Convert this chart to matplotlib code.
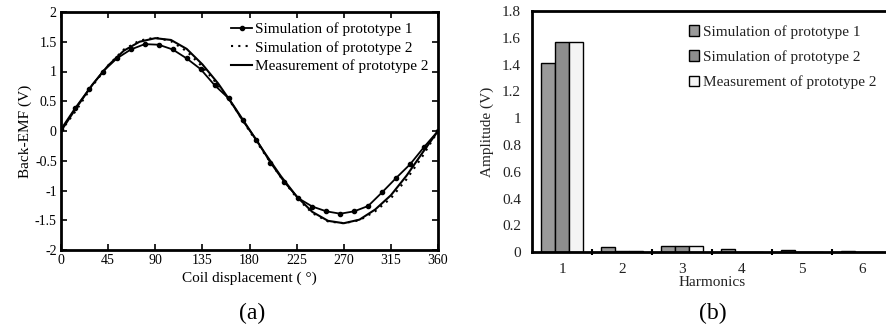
import numpy as np
import matplotlib
matplotlib.use("Agg")
import matplotlib.pyplot as plt

plt.rcParams['font.family'] = ['Liberation Serif', 'DejaVu Serif']
plt.rcParams['axes.unicode_minus'] = False
plt.rcParams['mathtext.fontset'] = 'stix'

# ---- (a) Back-EMF waveforms ----
angle_sim1 = [0, 13.33, 26.67, 40, 53.33, 66.67, 80, 93.33, 106.67, 120, 133.33, 146.67,
              160, 173.33, 186.67, 200, 213.33, 226.67, 240, 253.33, 266.67, 280, 293.33,
              306.67, 320, 333.33, 346.67, 360]
emf_sim1 = [0.03, 0.38, 0.70, 1.00, 1.22, 1.37, 1.46, 1.45, 1.37, 1.22, 1.04, 0.77,
            0.55, 0.18, -0.15, -0.53, -0.86, -1.13, -1.27, -1.35, -1.39, -1.35, -1.26,
            -1.03, -0.79, -0.56, -0.27, 0.0]

angle_p2 = [0, 15, 30, 45, 60, 75, 90, 105, 120, 135, 150, 165, 180, 195, 210, 225,
            240, 255, 270, 285, 300, 315, 330, 345, 360]
emf_sim2 = [0.0, 0.36, 0.76, 1.10, 1.37, 1.52, 1.57, 1.51, 1.34, 1.08, 0.77, 0.41, 0.0,
            -0.40, -0.78, -1.12, -1.38, -1.52, -1.55, -1.50, -1.35, -1.13, -0.81, -0.43, 0.0]
emf_meas2 = [0.0, 0.40, 0.78, 1.10, 1.35, 1.50, 1.56, 1.53, 1.38, 1.12, 0.80, 0.42, 0.02,
             -0.38, -0.76, -1.10, -1.36, -1.51, -1.55, -1.49, -1.32, -1.08, -0.75, -0.37, 0.0]

x_ticks_a = [0, 45, 90, 135, 180, 225, 270, 315, 360]
y_ticks_a = [-2, -1.5, -1, -0.5, 0, 0.5, 1, 1.5, 2]
y_ticklabels_a = ['-2', '-1.5', '-1', '-0.5', '0', '0.5', '1', '1.5', '2']

# ---- (b) harmonics ----
harmonics = [1, 2, 3, 4, 5, 6]
amp_sim1 = [1.41, 0.04, 0.045, 0.025, 0.02, 0.01]
amp_sim2 = [1.57, 0.01, 0.05, 0.005, 0.005, 0.005]
amp_meas2 = [1.57, 0.01, 0.045, 0.005, 0.005, 0.005]
y_ticks_b = [0, 0.2, 0.4, 0.6, 0.8, 1.0, 1.2, 1.4, 1.6, 1.8]
y_ticklabels_b = ['0', '0.2', '0.4', '0.6', '0.8', '1', '1.2', '1.4', '1.6', '1.8']

W, H = 886, 329
fig = plt.figure(figsize=(W / 100, H / 100), dpi=100)

# Left axes
ax = fig.add_axes([61 / W, 1 - 250 / H, (438 - 61) / W, (250 - 12) / H])
ax.plot(angle_sim1, emf_sim1, color='black', lw=1.3, marker='o', ms=3,
        label='Simulation of prototype 1')
ax.plot(angle_p2, emf_sim2, color='black', lw=1.5, ls=(0, (1, 2.5)),
        label='Simulation of prototype 2')
ax.plot(angle_p2, emf_meas2, color='black', lw=1.5,
        label='Measurement of prototype 2')
ax.set_xlim(0, 360)
ax.set_ylim(-2, 2)
ax.set_xticks(x_ticks_a)
ax.set_yticks(y_ticks_a)
ax.set_yticklabels(y_ticklabels_a)
ax.tick_params(direction='in', top=True, right=True, length=4, width=1.2,
               labelsize=10, pad=3)
for s in ax.spines.values():
    s.set_linewidth(2)
ax.set_xlabel('Coil displacement ( °)', fontsize=11, labelpad=3)
ax.set_ylabel('Back-EMF (V)', fontsize=11, labelpad=2)
ax.legend(loc='upper right', bbox_to_anchor=(1.0, 0.995), frameon=False, fontsize=11,
          handlelength=1.4, handletextpad=0.2, labelspacing=0.3, borderaxespad=0.2)
fig.text(252 / W, 1 - 313 / H, '(a)', fontsize=17, ha='center', va='center')

# Right axes
tc = '#222222'
axb = fig.add_axes([532 / W, 1 - 252.3 / H, 360 / W, (252.3 - 11) / H])
x = np.array(harmonics, dtype=float)
bw = 0.23
axb.bar(x - bw, amp_sim1, width=bw, color='#9a9a9a', edgecolor='black', lw=1.0,
        label='Simulation of prototype 1')
axb.bar(x, amp_sim2, width=bw, color='#8e8e8e', edgecolor='black', lw=1.0,
        label='Simulation of prototype 2')
axb.bar(x + bw, amp_meas2, width=bw, color='#f4f4f4', edgecolor='black', lw=1.0,
        label='Measurement of prototype 2')
axb.set_xlim(0.5, 6.5)
axb.set_ylim(0, 1.8)
axb.set_xticks(harmonics)
axb.set_xticks([1.5, 2.5, 3.5, 4.5, 5.5], minor=True)
axb.set_yticks(y_ticks_b)
axb.set_yticklabels(y_ticklabels_b)
axb.tick_params(axis='x', which='major', length=0, labelsize=11, pad=8, colors=tc)
axb.tick_params(axis='x', which='minor', length=4, width=1.5, direction='inout')
axb.tick_params(axis='y', length=0, labelsize=11, pad=8, colors=tc)
for s in axb.spines.values():
    s.set_linewidth(2)
axb.spines['right'].set_visible(False)
axb.set_xlabel('Harmonics', fontsize=11, labelpad=0, color=tc)
axb.set_ylabel('Amplitude (V)', fontsize=11, labelpad=6, color=tc)
leg = axb.legend(loc='upper left', bbox_to_anchor=(0.41, 0.98), frameon=False,
                 fontsize=11, handlelength=0.7, handleheight=0.7,
                 handletextpad=0.2, labelspacing=0.75, borderaxespad=0.2)
for t in leg.get_texts():
    t.set_color(tc)
fig.text(713 / W, 1 - 313 / H, '(b)', fontsize=17, ha='center', va='center')

fig.savefig('out.png', dpi=100)
